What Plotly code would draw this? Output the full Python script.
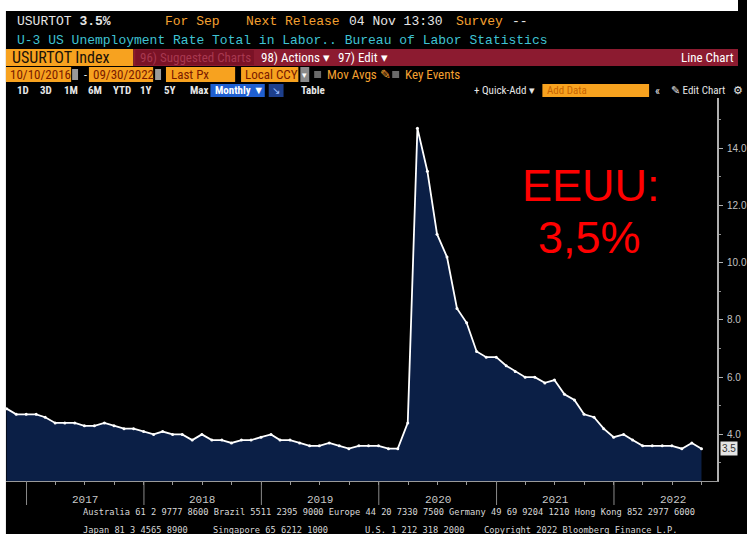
import pandas as pd
import plotly.graph_objects as go

W, H = 747, 534

# ---------------- data ----------------
dates = pd.date_range("2016-10-31", periods=72, freq="ME")
rate = [4.9, 4.7, 4.7,
        4.7, 4.6, 4.4, 4.4, 4.4, 4.3, 4.3, 4.4, 4.3, 4.2, 4.2, 4.1,
        4.0, 4.1, 4.0, 4.0, 3.8, 4.0, 3.8, 3.8, 3.7, 3.8, 3.8, 3.9,
        4.0, 3.8, 3.8, 3.7, 3.6, 3.6, 3.7, 3.6, 3.5, 3.6, 3.6, 3.6,
        3.5, 3.5, 4.4, 14.7, 13.2, 11.0, 10.2, 8.4, 7.9, 6.9, 6.7, 6.7,
        6.4, 6.2, 6.0, 6.0, 5.8, 5.9, 5.4, 5.2, 4.7, 4.6, 4.2, 3.9,
        4.0, 3.8, 3.6, 3.6, 3.6, 3.6, 3.5, 3.7, 3.5]
years = [2017, 2018, 2019, 2020, 2021, 2022]
ytick_vals = [4, 6, 8, 10, 12, 14]
ytick_text = ["4.0", "6.0", "8.0", "10.0", "12.0", "14.0"]
last_value = "3.5"

# ---------------- helpers ----------------
def px(x):
    return x / W

def py(y):
    return 1 - y / H

MONO = "Liberation Mono, DejaVu Sans Mono, monospace"
NARROW = "Liberation Sans Narrow, Arial Narrow, Roboto Condensed, Liberation Sans, sans-serif"
ORANGE = "#f7a21f"
ORANGE_TXT = "#f5a030"
RED_BAR = "#8c1b30"

shapes = []
annotations = []

def rect(x0, y0, x1, y1, color, line=None):
    shapes.append(dict(type="rect", xref="paper", yref="paper",
                       x0=px(x0), x1=px(x1), y0=py(y1), y1=py(y0),
                       fillcolor=color, line=dict(width=0) if line is None else line,
                       layer="below"))

def txt(x, y, s, color, size, family, anchor="left", yanchor="middle"):
    annotations.append(dict(x=px(x), y=py(y), xref="paper", yref="paper",
                            text=s, showarrow=False, xanchor=anchor, yanchor=yanchor,
                            font=dict(color=color, size=size, family=family)))

# ---------------- figure ----------------
fig = go.Figure()
fig.add_trace(go.Scatter(
    x=dates, y=rate, mode="lines+markers",
    line=dict(color="white", width=1.8),
    marker=dict(color="white", size=3),
    fill="tozeroy", fillcolor="#0b1f46",
    hoverinfo="skip", showlegend=False))

# white screenshot borders
rect(0, 0, W, 11, "white")
rect(0, 0, 6, H, "white")

# Row 1
txt(15, 22, "USURTOT <b>3.5%</b>", "#e6e6e6", 13, MONO)
txt(165, 22, "For Sep", ORANGE_TXT, 13, MONO)
txt(247, 22, "Next Release", ORANGE_TXT, 13, MONO)
txt(351, 22, "04 Nov 13:30", "#e6e6e6", 13, MONO)
txt(460, 22, "Survey", ORANGE_TXT, 13, MONO)
txt(516, 22, "--", "#e6e6e6", 13, MONO)
# Row 2
txt(15, 41, "U-3 US Unemployment Rate Total in Labor.. Bureau of Labor Statistics",
    "#3fc3d3", 13, MONO)
# Row 3
rect(6, 49, 135, 66, ORANGE)
rect(135, 49, W, 66, RED_BAR)
rect(137, 50, 257, 65, "#7a1226")
txt(10, 57.5, "USURTOT Index", "#1a1208", 16, NARROW)
txt(140, 57.5, "96) Suggested Charts", "#a83850", 13, NARROW)
txt(262, 57.5, "98) Actions \u25be", "white", 13, NARROW)
txt(340, 57.5, "97) Edit \u25be", "white", 13, NARROW)
txt(745, 57.5, "Line Chart", "white", 13, NARROW, anchor="right")
# Row 4
rect(6, 67, 72, 82, ORANGE)
rect(73, 69, 79, 80, "#9a9a9a")
txt(83, 74.5, "-", "#e6e6e6", 12, NARROW)
rect(90, 67, 155, 82, ORANGE)
rect(157, 69, 163, 80, "#9a9a9a")
rect(168, 67, 238, 82, ORANGE)
rect(244, 67, 302, 82, ORANGE)
rect(304, 67, 313, 82, "#8a8a8a")
txt(8, 74.5, "10/10/2016", "#7a1a00", 13, NARROW)
txt(92, 74.5, "09/30/2022", "#7a1a00", 13, NARROW)
txt(171, 74.5, "Last Px", "#7a1a00", 13, NARROW)
txt(246, 74.5, "Local CCY", "#7a1a00", 13, NARROW)
txt(308.5, 74.5, "\u25be", "white", 9, NARROW, anchor="center")
rect(318, 71, 325, 78, "#6a6a6a")
txt(329, 74.5, "Mov Avgs \u270e", ORANGE_TXT, 13, NARROW)
rect(397, 71, 404, 78, "#6a6a6a")
txt(408, 74.5, "Key Events", ORANGE_TXT, 13, NARROW)
# Row 5
for lbl, x in [("1D", 15), ("3D", 38), ("1M", 63), ("6M", 87), ("YTD", 112),
               ("1Y", 140), ("5Y", 164), ("Max", 190)]:
    txt(x, 90.5, f"<b>{lbl}</b>", "#e6e6e6", 11, NARROW)
rect(213, 84, 268, 97, "#1f5fd0")
txt(216, 90.5, "<b>Monthly \u25bc</b>", "white", 11, NARROW)
rect(272, 84, 287, 97, "#1d3f8c")
txt(279.5, 90.5, "\u2198", "#9fc0ff", 10, NARROW, anchor="center")
txt(303, 90.5, "<b>Table</b>", "#e6e6e6", 11, NARROW)
txt(478, 90.5, "+ Quick-Add \u25be", "#e6e6e6", 11, NARROW)
rect(549, 84, 657, 97, ORANGE)
txt(552, 90.5, "Add Data", "#c86400", 11, NARROW)
txt(661, 90.5, "\u00ab", "#e6e6e6", 12, NARROW)
txt(677, 90.5, "\u270e Edit Chart", "#e6e6e6", 11, NARROW)
txt(740, 90.5, "\u2699", "#e6e6e6", 11, NARROW)

# Year separators and labels in the axis band
for yr in years:
    shapes.append(dict(type="line", xref="x", yref="paper",
                       x0=f"{yr}-01-01", x1=f"{yr}-01-01",
                       y0=py(481), y1=py(505),
                       line=dict(color="#8a8a8a", width=1)))
    annotations.append(dict(x=f"{yr}-07-02", y=py(500), xref="x", yref="paper",
                            text=str(yr), showarrow=False, xanchor="center",
                            yanchor="middle",
                            font=dict(color="#c8c8c8", size=11, family=MONO)))

# Footer
FOOT = "DejaVu Sans Mono, monospace"
txt(82, 512, "Australia 61 2 9777 8600 Brazil 5511 2395 9000 Europe 44 20 7330 7500 "
    "Germany 49 69 9204 1210 Hong Kong 852 2977 6000", "#d8d8d8", 8.7, FOOT)
txt(82, 530, "Japan 81 3 4565 8900", "#d8d8d8", 8.7, FOOT)
txt(214, 530, "Singapore 65 6212 1000", "#d8d8d8", 8.7, FOOT)
txt(367, 530, "U.S. 1 212 318 2000", "#d8d8d8", 8.7, FOOT)
txt(488, 530, "Copyright 2022 Bloomberg Finance L.P.", "#d8d8d8", 8.7, FOOT)

# Red overlay text
RED_FONT = "Liberation Sans, Arial, sans-serif"
txt(598, 186, "EEUU:", "#ff0000", 45, RED_FONT, anchor="center")
txt(597, 237, "3,5%", "#ff0000", 45, RED_FONT, anchor="center")

# Last value tag
annotations.append(dict(x=px(729), y=3.5, xref="paper", yref="y", text=last_value,
                        showarrow=False, xanchor="left", yanchor="middle",
                        bgcolor="#e4e4e4", borderpad=1,
                        font=dict(color="#333333", size=10,
                                  family="Liberation Sans, sans-serif")))

fig.update_layout(
    width=W, height=H,
    margin=dict(l=0, r=0, t=0, b=0),
    paper_bgcolor="black", plot_bgcolor="black",
    showlegend=False, hovermode=False,
    shapes=shapes, annotations=annotations,
    xaxis=dict(type="date", domain=[px(6), px(726)],
               range=["2016-10-29", "2022-11-18"],
               showgrid=False, zeroline=False,
               showline=True, linecolor="#9a9a9a", linewidth=1,
               ticks="outside", ticklen=3, tickcolor="#9a9a9a",
               tick0="2017-01-01", dtick="M3", showticklabels=False),
    yaxis=dict(side="right", domain=[py(481), py(98)], range=[2.37, 15.76],
               showgrid=False, zeroline=False,
               showline=True, linecolor="#b0b0b0", linewidth=1.5,
               ticks="outside", ticklen=4, tickcolor="#b0b0b0",
               tickvals=ytick_vals, ticktext=ytick_text,
               ticklabelstandoff=2,
               tickfont=dict(color="#c0c0c0", size=10,
                             family="Liberation Sans, sans-serif"),
               minor=dict(dtick=1, ticks="outside", ticklen=2,
                          tickcolor="#909090")),
)

fig.write_html("out.html", config={"displayModeBar": False},
               post_script="document.body.style.margin='0';"
               "document.body.style.overflow='hidden';")
